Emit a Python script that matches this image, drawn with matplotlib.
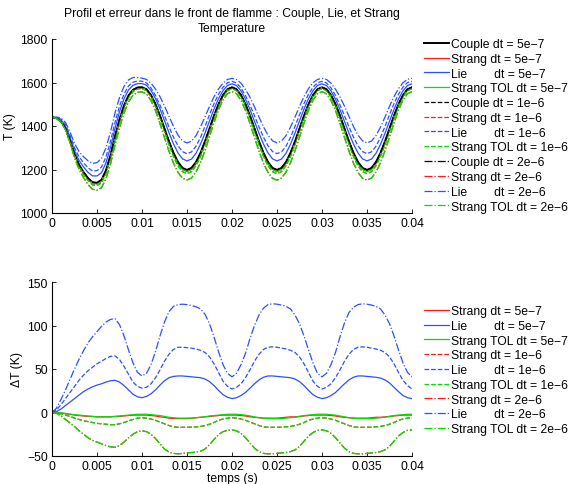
import numpy as np
import matplotlib
matplotlib.use("Agg")
import matplotlib.pyplot as plt

plt.rcParams['font.family'] = ['Liberation Sans', 'DejaVu Sans']
plt.rcParams['font.size'] = 8.7
plt.rcParams['axes.unicode_minus'] = True

FS = 8.7

# sample times (s)
t = np.linspace(0, 0.04, 81)

# Couple temperature (K)
T_couple = [
    1440, 1436, 1422, 1390, 1335, 1270, 1222, 1188, 1160, 1141, 1139,
    1152, 1196, 1265, 1352, 1430, 1494, 1540, 1566, 1577, 1578,
    1569, 1542, 1500, 1447, 1388, 1329, 1276, 1234, 1207, 1198,
    1207, 1234, 1276, 1329, 1388, 1447, 1500, 1542, 1569, 1578,
    1569, 1542, 1500, 1447, 1388, 1329, 1276, 1234, 1207, 1198,
    1207, 1234, 1276, 1329, 1388, 1447, 1500, 1542, 1569, 1578,
    1569, 1542, 1500, 1447, 1388, 1329, 1276, 1234, 1207, 1198,
    1207, 1234, 1276, 1329, 1388, 1447, 1500, 1542, 1569, 1578,
]

# Errors relative to Couple (K)
dT_strang_5e7 = [
    0, 0, -0.5, -1.5, -2, -3, -3.5, -4, -4.5, -4.5, -5, -5, -5, -5, -4.5, -4.5, -4, -3.5, -3, -3, -3,
    -3, -3.5, -4, -5, -5.5, -6.5, -7, -7, -7, -7, -6.5, -6, -5.5, -5, -4.5, -4, -3.5, -3, -3, -3,
    -3, -3.5, -4, -5, -5.5, -6, -6.5, -6.5, -6.5, -6.5, -6, -5.5, -5, -5, -4.5, -4, -3.5, -3, -3, -3,
    -3, -3.5, -4, -5, -5.5, -6, -6.5, -6.5, -6.5, -6.5, -6, -5.5, -5.5, -5, -4.5, -4, -3.5, -3, -3, -3,
]
dT_lie_5e7 = [
    0, 1, 4, 8, 12, 16, 20, 24, 27, 29.5, 31.5, 33, 35, 36.5, 37, 35, 31, 26, 21, 18, 17,
    18.5, 21.5, 26, 31.5, 36.5, 40, 41.5, 42, 42, 41.5, 41, 40.5, 40, 38.5, 35.5, 31, 25.5, 20.5, 17.5, 16,
    17, 19.5, 23, 28, 33, 37.5, 40.5, 42, 42, 41.5, 41, 40.5, 40, 38.5, 35.5, 31, 25.5, 20.5, 17.5, 16,
    17, 19.5, 23, 28, 33, 37.5, 40.5, 42, 42, 41.5, 41, 40.5, 39.5, 37.5, 34, 29, 24, 19.5, 17, 16,
]
dT_strangtol_5e7 = [
    0, 0, -0.5, -1, -2, -2.5, -3, -3.5, -4, -4.5, -5, -5, -5, -5, -4.5, -4, -3.5, -3, -2.5, -2, -2,
    -2, -2.5, -3, -3.5, -4.5, -5.5, -6, -6.5, -6.5, -6.5, -6.5, -6, -5.5, -5, -4, -3.5, -3, -2.5, -2, -2,
    -2, -2.5, -3, -4, -5, -6, -6.5, -7, -7, -7, -7, -6.5, -6, -5.5, -4.5, -3.5, -3, -2.5, -2, -2,
    -2, -2.5, -3, -4, -5, -6, -6.5, -7, -7, -7, -7, -6.5, -6, -5.5, -4.5, -3.5, -3, -2.5, -2, -2,
]
dT_strang_1e6 = [
    0, -0.5, -1.5, -3, -4.5, -6.5, -8, -9.5, -10.5, -11.5, -12.5, -13, -13.5, -14, -14, -13, -11.5, -9.5, -8, -6.5, -6,
    -6.5, -7.5, -9, -11, -13, -15, -16.5, -17, -17, -17, -16.8, -16.5, -16, -15, -13.5, -11.5, -9, -7.5, -6.5, -6,
    -6.5, -7.5, -9, -11, -13, -15, -16.5, -17, -17, -17, -16.8, -16.5, -16, -15, -13.5, -11.5, -9, -7.5, -6.5, -6,
    -6.5, -7.5, -9, -11, -13, -15, -16.5, -17, -17, -17, -16.8, -16.5, -16, -15, -13.5, -11.5, -9, -7.5, -6.5, -6,
]
dT_lie_1e6 = [
    0, 3, 9, 16, 23, 30, 37, 43, 48, 52, 56, 59, 62, 64.5, 65, 61, 53, 44, 35, 30, 28,
    29, 33, 40, 49, 59, 67, 72.5, 75, 75, 74.5, 74, 73, 71.5, 69, 64, 56, 46, 36, 30, 27,
    29, 33, 40, 49, 59, 67, 72.5, 75, 75.5, 75, 74, 73, 71.5, 69, 64, 56, 46, 36, 30, 27,
    29, 33, 40, 49, 59, 67, 72.5, 75, 75.5, 75, 74, 73, 71.5, 69, 64, 56, 46, 37, 31, 27,
]
dT_strangtol_1e6 = [
    0, -0.5, -1.5, -3, -4.5, -6.5, -8, -9.5, -10.5, -11.5, -12.5, -13, -13.5, -14, -14, -13, -11.5, -9.5, -8, -6.5, -6,
    -6.5, -7.5, -9, -11, -13, -15, -16.5, -17, -17, -17, -16.8, -16.5, -16, -15, -13.5, -11.5, -9, -7.5, -6.5, -6,
    -6.5, -7.5, -9, -11, -13, -15, -16.5, -17, -17, -17, -16.8, -16.5, -16, -15, -13.5, -11.5, -9, -7.5, -6.5, -6,
    -6.5, -7.5, -9, -11, -13, -15, -16.5, -17, -17, -17, -16.8, -16.5, -16, -15, -13.5, -11.5, -9, -7.5, -6.5, -6,
]
dT_strang_2e6 = [
    0, -1, -4, -8, -12, -16, -21, -25, -29, -32, -34, -36, -38, -39.5, -40, -38, -34, -29, -25, -22, -21,
    -22, -25, -30, -36, -42, -45.5, -47, -47.5, -47, -46.5, -46, -45.5, -44.5, -42, -37, -31, -25.5, -22, -20.5, -20,
    -21, -24, -29, -35, -41, -45, -47, -47.5, -47.5, -47, -46.5, -46, -45, -43, -39, -33, -27, -23, -20.5, -20,
    -21, -24, -29, -35, -41, -45, -47, -47.5, -47.5, -47, -46.5, -46, -45, -43, -39, -33, -27, -23, -20.5, -20,
]
dT_lie_2e6 = [
    0, 5, 15, 26, 38, 50, 61, 71, 80, 87, 93, 99, 104, 107, 108, 101, 88, 72, 57, 46, 42,
    45, 55, 70, 88, 104, 116, 122, 124, 124.5, 124, 123, 121.5, 119, 113, 102, 87, 70, 55, 45, 41,
    45, 55, 68, 85, 100, 112, 120, 124, 125, 124.5, 123.5, 122, 119, 112, 102, 88, 72, 57, 45, 41,
    45, 55, 69, 87, 103, 115, 121, 124, 125, 124.5, 123.5, 122, 119, 112, 102, 88, 72, 57, 46, 41,
]
dT_strangtol_2e6 = [
    0, -1, -4, -8, -12, -16, -21, -25, -29, -32, -34, -36, -38, -39.5, -40, -38, -34, -29, -25, -22, -21,
    -22, -25, -30, -36, -42, -45.5, -47, -47.5, -47, -46.5, -46, -45.5, -44.5, -42, -37, -31, -25.5, -22, -20.5, -20,
    -21, -24, -29, -35, -41, -45, -47, -47.5, -47.5, -47, -46.5, -46, -45, -43, -39, -33, -27, -23, -20.5, -20,
    -21, -24, -29, -35, -41, -45, -47, -47.5, -47.5, -47, -46.5, -46, -45, -43, -39, -33, -27, -23, -20.5, -20,
]

xticks = [0, 0.005, 0.01, 0.015, 0.02, 0.025, 0.03, 0.035, 0.04]
xtick_labels = ["0", "0.005", "0.01", "0.015", "0.02", "0.025", "0.03", "0.035", "0.04"]
yticks_top = [1000, 1200, 1400, 1600, 1800]
yticks_bot = [-50, 0, 50, 100, 150]

K, R, B, G = '#000000', '#ff1a1a', '#2a50ff', '#00e000'

top_series = [
    ("Couple dt = 5e\u22127", None, K, '-'),
    ("Strang dt = 5e\u22127", dT_strang_5e7, R, '-'),
    ("Lie        dt = 5e\u22127", dT_lie_5e7, B, '-'),
    ("Strang TOL dt = 5e\u22127", dT_strangtol_5e7, G, '-'),
    ("Couple dt = 1e\u22126", None, K, '--'),
    ("Strang dt = 1e\u22126", dT_strang_1e6, R, '--'),
    ("Lie        dt = 1e\u22126", dT_lie_1e6, B, '--'),
    ("Strang TOL dt = 1e\u22126", dT_strangtol_1e6, G, '--'),
    ("Couple dt = 2e\u22126", None, K, '-.'),
    ("Strang dt = 2e\u22126", dT_strang_2e6, R, '-.'),
    ("Lie        dt = 2e\u22126", dT_lie_2e6, B, '-.'),
    ("Strang TOL dt = 2e\u22126", dT_strangtol_2e6, G, '-.'),
]

fig = plt.figure(figsize=(5.71, 4.85), dpi=100)
ax1 = fig.add_axes([52/571, 1-214/485, 360/571, 174/485])
ax2 = fig.add_axes([52/571, 1-457/485, 360/571, 174/485])

Tc = np.array(T_couple, dtype=float)
for lab, d, c, ls in top_series:
    y = Tc if d is None else Tc + np.array(d)
    lw = 1.4 if (d is None and ls == '-') else 0.9
    ax1.plot(t, y, color=c, ls=ls, lw=lw, label=lab)

for lab, d, c, ls in top_series:
    if d is None:
        continue
    ax2.plot(t, d, color=c, ls=ls, lw=0.9, label=lab)

for ax, yl, yt in [(ax1, (1000, 1800), yticks_top), (ax2, (-50, 150), yticks_bot)]:
    ax.set_xlim(0, 0.04)
    ax.set_ylim(*yl)
    ax.set_xticks(xticks)
    ax.set_xticklabels(xtick_labels)
    ax.set_yticks(yt)
    ax.spines['top'].set_visible(False)
    ax.spines['right'].set_visible(False)
    ax.tick_params(direction='in', length=3, labelsize=FS, width=0.6, pad=3)
    for s in ax.spines.values():
        s.set_linewidth(0.8)

ax2.set_yticklabels([str(v).replace('-', '\u2212') for v in yticks_bot])

ax1.set_ylabel("T (K)", fontsize=FS, labelpad=3)
ax2.set_ylabel("\u0394T (K)", fontsize=FS, labelpad=3)
ax2.set_xlabel("temps (s)", fontsize=FS, labelpad=0)
ax1.set_title("Profil et erreur dans le front de flamme : Couple, Lie, et Strang\nTemperature",
              fontsize=FS, pad=6, linespacing=1.3)

leg_kw = dict(frameon=False, loc='upper left', borderaxespad=0, borderpad=0,
              handlelength=2.05, handletextpad=0.2, labelspacing=0.23, fontsize=FS)
ax1.legend(bbox_to_anchor=(424/571, 1-39/485), bbox_transform=fig.transFigure, **leg_kw)
ax2.legend(bbox_to_anchor=(424/571, 1-306/485), bbox_transform=fig.transFigure, **leg_kw)

fig.savefig("out.png", dpi=100)
